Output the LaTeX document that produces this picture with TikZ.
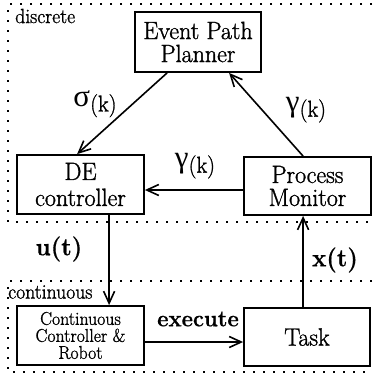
\documentclass[tikz,border=0pt]{standalone}
\usepackage{fontspec}
\setmainfont{Latin Modern Roman}[FakeStretch=0.96, UprightFeatures={FakeBold=1.2}, BoldFeatures={FakeBold=0.6}]
\newfontfamily\grk{Liberation Serif}
\usetikzlibrary{arrows.meta,calc}
\tikzset{
  blk/.style={draw, line width=1.8pt, inner sep=0pt, align=center,
    font=\fontsize{25}{25}\selectfont},
  arr/.style={line width=1.6pt, -{Straight Barb[length=12pt,width=11pt,line width=1.6pt]}},
  frame/.style={line width=1.8pt, dash pattern=on 1.8pt off 8.2pt},
  lbl/.style={inner sep=0pt, font=\fontsize{25}{25}\selectfont},
  tag/.style={inner sep=0pt, anchor=west, font=\fontsize{20.5}{20.5}\selectfont},
}
\newcommand{\glab}[1]{{\grk\fontsize{31}{31}\selectfont #1}\raisebox{-0.45ex}{\fontsize{23}{23}\selectfont(k)}}
\begin{document}
\begin{tikzpicture}[x=1pt,y=-1pt]
\useasboundingbox (0,0) rectangle (377,375);
% dotted regions
\draw[frame] (372,4) -- (8,4) -- (8,222) -- (372,222);
\draw[frame] (372,281) -- (8,281) -- (8,372) -- (372,372);
\node[tag] (tdisc) at (15,16) {discrete};
\node[tag] (tcont) at (8,292) {continuous};
% blocks
\node[blk, minimum width=126pt, minimum height=60pt] (epp) at (198,42) {Event Path\\[-2pt]Planner};
\node[blk, minimum width=127pt, minimum height=59pt] (de) at (80.5,184.5) {DE\\[1pt]controller};
\node[blk, minimum width=127pt, minimum height=58pt] (pm) at (307.5,186) {Process\\[-2pt]Monitor};
\node[blk, minimum width=127pt, minimum height=59pt, font=\fontsize{18.5}{17}\selectfont] (ccr) at (80.5,335.5) {Continuous\\Controller \&\\Robot};
\node[blk, minimum width=126pt, minimum height=58pt] (task) at (307,337) {Task};
% connectors
\draw[arr] ([xshift=33pt]epp.south west) -- ([xshift=61pt]de.north west);
\draw[arr] ([xshift=60pt]pm.north west) -- ([xshift=95pt]epp.south west);
\draw[arr] ([yshift=-4pt]pm.west) -- ([yshift=-4pt]pm.west -| de.east);
\draw[arr] ([xshift=93pt]de.south west) -- ([xshift=93pt]ccr.north west);
\draw[arr] ([xshift=60pt]task.north west) -- ([xshift=60pt]task.north west |- pm.south);
\draw[arr] ([yshift=-6.5pt]ccr.east) -- ([yshift=-6.5pt]ccr.east -| task.west);
% labels
\node[lbl] (ls) at (95,104) {\glab{σ}};
\node[lbl] (lg1) at (306,110) {\glab{γ}};
\node[lbl] (lg2) at (195,166) {\glab{γ}};
\node[lbl] (lu) at (59,249) {\textbf{u(t)}};
\node[lbl] (lx) at (335,260) {\textbf{x(t)}};
\node[lbl, font=\fontsize{23}{23}\selectfont] (le) at (198,319) {\textbf{execute}};
\end{tikzpicture}
\end{document}
